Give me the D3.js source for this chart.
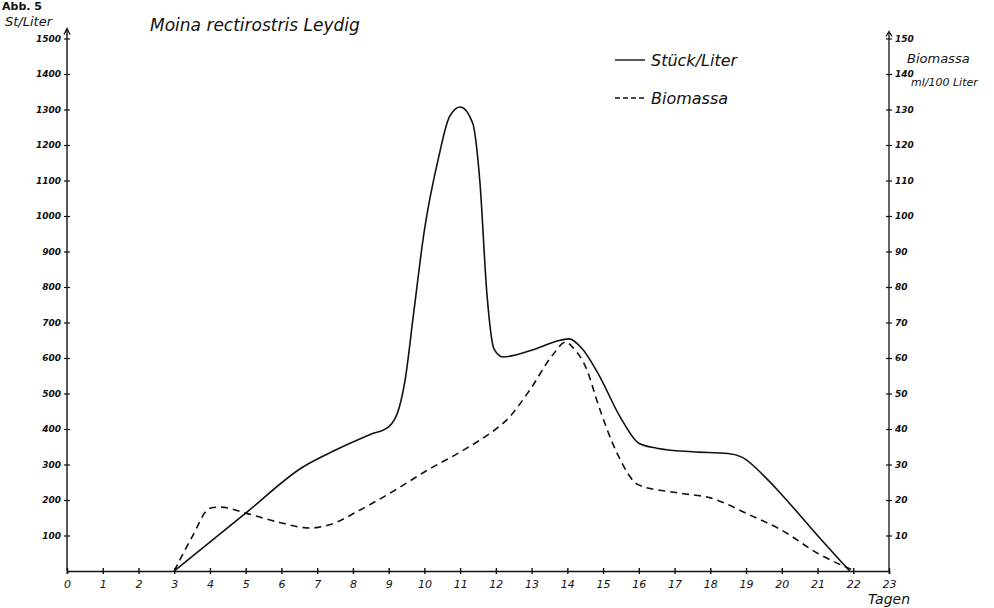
<!DOCTYPE html>
<html>
<head>
<meta charset="utf-8">
<script src="https://cdn.jsdelivr.net/npm/d3@7"></script>
<style>
  html, body { margin: 0; padding: 0; background: #fff; }
  svg { display: block; }
  text { font-family: "DejaVu Sans", "Liberation Sans", sans-serif; fill: #111; }
</style>
</head>
<body>
<svg id="chart" width="994" height="608"></svg>
<script>
// ---- data ----
const days = d3.range(0, 24);                    // x tick labels 0..23 (Tagen)
const leftTicks = d3.range(100, 1600, 100);      // St/Liter ticks
const rightTicks = d3.range(10, 160, 10);        // Biomassa ml/100 Liter ticks

const stueckDays   = [3, 5, 6.6, 7.5, 8.5, 9, 9.3, 9.46, 9.7, 10, 10.4, 10.7, 11, 11.35, 11.55, 11.75, 11.95, 12.2, 13, 13.8, 14.05, 14.4, 14.85, 15.5, 16, 16.5, 17.5, 18.5, 18.9, 19.5, 20, 21, 21.9];
const stueckValues = [0, 163, 293, 340, 385, 406, 462, 538, 727, 960, 1166, 1279, 1307, 1262, 1100, 780, 625, 603, 622, 650, 654, 628, 558, 430, 360, 346, 336, 331, 320, 268, 215, 100, 0];

const bioDays   = [3, 3.5, 4, 4.3, 5, 5.9, 6.8, 7.4, 8.2, 9.1, 10.1, 11, 12, 12.3, 12.95, 13.6, 13.95, 14.15, 14.55, 14.85, 15.4, 16, 17.1, 18, 19.1, 20, 21, 22.05];
const bioValues = [0, 9.6, 17.7, 18, 16.3, 13.8, 12.1, 13.2, 17.2, 22.3, 28.5, 33.5, 40, 42.5, 51, 61, 64.5, 63, 56.6, 47.3, 33, 24.2, 22, 20.6, 15.8, 11.5, 5, 0];

// ---- layout ----
const svg = d3.select("#chart");
const x  = d3.scaleLinear().domain([0, 23]).range([67, 889]);
const yL = d3.scaleLinear().domain([0, 1500]).range([571, 38.5]);
const yR = d3.scaleLinear().domain([0, 150]).range([571, 38.5]);

// x axis
const gx = svg.append("g").attr("transform", `translate(0,${yL(0)})`)
  .call(d3.axisBottom(x).tickValues(days).tickFormat(d3.format("d")).tickSizeOuter(0).tickSize(3));
gx.select(".domain").attr("stroke", "#111").attr("stroke-width", 1.6);
gx.selectAll(".tick line").attr("y1", -3).attr("y2", 3).attr("stroke", "#111").attr("stroke-width", 1.4);
gx.selectAll(".tick text").attr("y", 9).attr("font-size", 11).attr("font-style", "italic")
  .attr("font-family", "'DejaVu Sans', sans-serif").attr("fill", "#111");

// left axis
const gl = svg.append("g").attr("transform", `translate(${x(0)},0)`)
  .call(d3.axisLeft(yL).tickValues(leftTicks).tickFormat(d3.format("d")).tickSizeOuter(0).tickSize(3));
gl.select(".domain").remove();
gl.selectAll(".tick line").attr("x1", -3).attr("x2", 3).attr("stroke", "#111").attr("stroke-width", 1.2);
gl.selectAll(".tick text").attr("x", -6).attr("font-size", 9).attr("font-weight", "bold")
  .attr("font-style", "italic").attr("font-family", "'DejaVu Sans', sans-serif").attr("fill", "#111");
gl.append("line").attr("x1", 0).attr("x2", 0).attr("y1", yL(0)).attr("y2", yL(1500) - 9)
  .attr("stroke", "#111").attr("stroke-width", 1.4);
gl.append("path").attr("d", `M-3,${yL(1500) - 4} L0,${yL(1500) - 10} L3,${yL(1500) - 4}`)
  .attr("fill", "none").attr("stroke", "#111").attr("stroke-width", 1.3);

// right axis
const gr = svg.append("g").attr("transform", `translate(${x(23)},0)`)
  .call(d3.axisRight(yR).tickValues(rightTicks).tickFormat(d3.format("d")).tickSizeOuter(0).tickSize(3));
gr.select(".domain").remove();
gr.selectAll(".tick line").attr("x1", -3).attr("x2", 3).attr("stroke", "#111").attr("stroke-width", 1.2);
gr.selectAll(".tick text").attr("x", 6).attr("font-size", 9).attr("font-weight", "bold")
  .attr("font-style", "italic").attr("font-family", "'DejaVu Sans', sans-serif").attr("fill", "#111");
gr.append("line").attr("x1", 0).attr("x2", 0).attr("y1", yR(0)).attr("y2", yR(150) - 6)
  .attr("stroke", "#111").attr("stroke-width", 1.3);
gr.append("path").attr("d", `M-3,${yR(150) - 2} L0,${yR(150) - 7} L3,${yR(150) - 2}`)
  .attr("fill", "none").attr("stroke", "#111").attr("stroke-width", 1.2);

// lines
const stueck = stueckDays.map((d, i) => ({ d, v: stueckValues[i] }));
const bio = bioDays.map((d, i) => ({ d, v: bioValues[i] }));

svg.append("path").datum(stueck)
  .attr("d", d3.line().x(p => x(p.d)).y(p => yL(p.v)).curve(d3.curveMonotoneX))
  .attr("fill", "none").attr("stroke", "#111").attr("stroke-width", 1.6);

svg.append("path").datum(bio)
  .attr("d", d3.line().x(p => x(p.d)).y(p => yR(p.v)).curve(d3.curveMonotoneX))
  .attr("fill", "none").attr("stroke", "#111").attr("stroke-width", 1.6)
  .attr("stroke-dasharray", "7,5");

// texts
svg.append("text").attr("x", 2).attr("y", 10).attr("font-size", 11).attr("font-weight", "bold").text("Abb. 5");
svg.append("text").attr("x", 5).attr("y", 26).attr("font-size", 13).attr("font-style", "italic").text("St/Liter");
svg.append("text").attr("x", 150).attr("y", 31).attr("font-size", 17).attr("font-style", "italic")
  .text("Moina rectirostris Leydig");

// legend
svg.append("line").attr("x1", 615).attr("x2", 645).attr("y1", 60).attr("y2", 60)
  .attr("stroke", "#111").attr("stroke-width", 1.4);
svg.append("text").attr("x", 651).attr("y", 66).attr("font-size", 16).attr("font-style", "italic")
  .text("Stück/Liter");
svg.append("line").attr("x1", 615).attr("x2", 647).attr("y1", 98).attr("y2", 98)
  .attr("stroke", "#111").attr("stroke-width", 1.4).attr("stroke-dasharray", "5,3");
svg.append("text").attr("x", 651).attr("y", 104).attr("font-size", 16).attr("font-style", "italic")
  .text("Biomassa");

// right axis title
svg.append("text").attr("x", 907).attr("y", 63).attr("font-size", 13).attr("font-style", "italic")
  .text("Biomassa");
svg.append("text").attr("x", 911).attr("y", 86).attr("font-size", 11).attr("font-style", "italic")
  .text("ml/100 Liter");

// x axis title
svg.append("text").attr("x", 868).attr("y", 604).attr("font-size", 14).attr("font-style", "italic").text("Tagen");
</script>
</body>
</html>
